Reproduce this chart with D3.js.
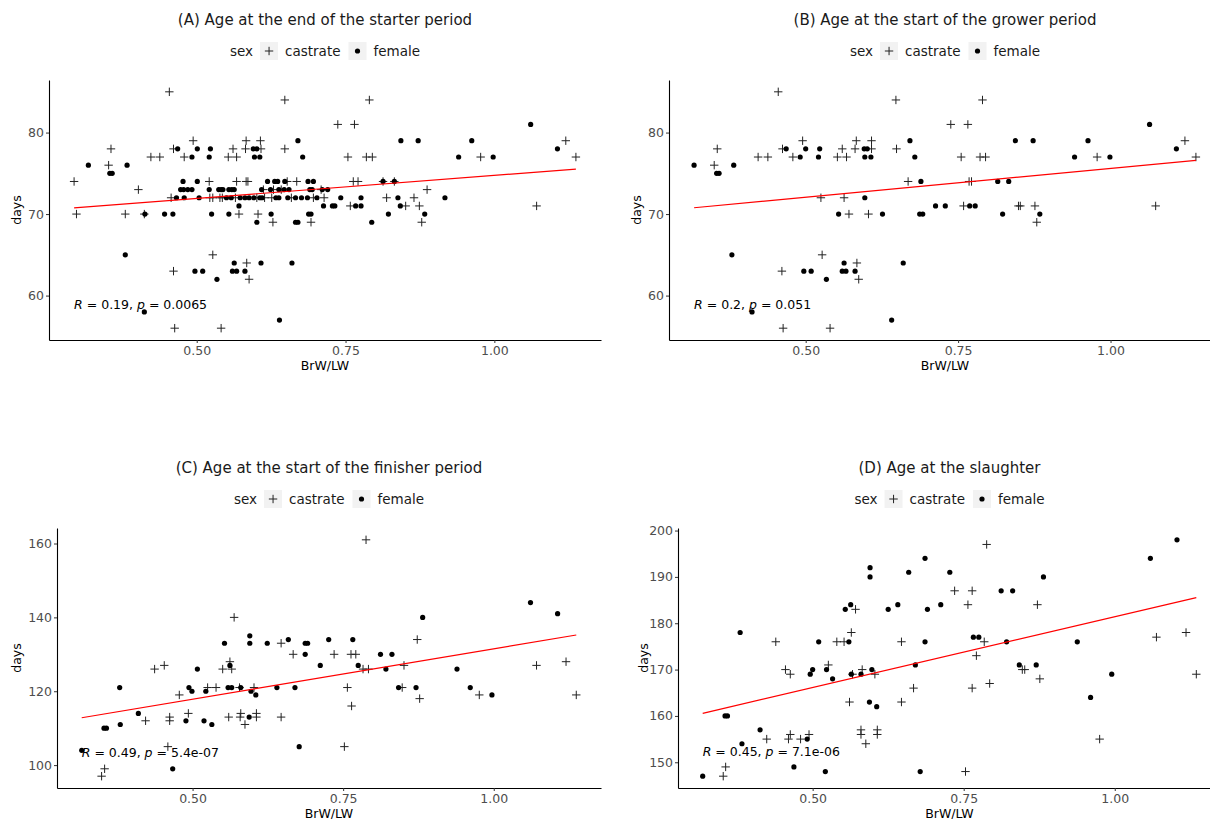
<!DOCTYPE html>
<html>
<head>
<meta charset="utf-8">
<script src="https://cdn.jsdelivr.net/npm/d3@7"></script>
<style>
  body { margin: 0; background: #fff; }
  svg { display: block; font-family: "DejaVu Sans", sans-serif; }
</style>
</head>
<body>
<svg id="chart" width="1210" height="819"></svg>
<script>
(function() {

// ---- data: [BrW/LW, days] per animal ----
const starterCastrate = [
  [0.454,85],[0.648,84],[0.790,84],[0.737,81],[0.765,81],
  [0.494,79],[0.583,79],[0.607,79],[1.120,79],
  [0.356,78],[0.461,78],[0.561,78],[0.582,78],[0.608,78],[0.648,78],
  [0.423,77],[0.438,77],[0.479,77],[0.553,77],[0.567,77],[0.754,77],[0.785,77],[0.795,77],[0.977,77],[1.137,77],
  [0.352,76],
  [0.294,74],[0.521,74],[0.567,74],[0.583,74],[0.586,74],[0.652,74],[0.668,74],[0.763,74],[0.771,74],[0.813,74],[0.832,74],
  [0.402,73],[0.612,73],[0.629,73],[0.642,73],[0.709,73],[0.887,73],
  [0.457,72],[0.522,72],[0.527,72],[0.539,72],[0.543,72],[0.565,72],[0.601,72],[0.614,72],[0.626,72],[0.659,72],[0.696,72],[0.714,72],[0.819,72],[0.865,72],
  [0.758,71],[0.851,71],[0.874,71],[1.071,71],
  [0.298,70],[0.380,70],[0.412,70],[0.571,70],[0.603,70],
  [0.628,69],[0.692,69],[0.878,69],
  [0.527,65],[0.584,64],[0.461,63],[0.588,62],[0.463,56],[0.541,56]
];
const starterFemale = [
  [1.061,81],
  [0.670,79],[0.843,79],[0.872,79],[0.962,79],
  [0.468,78],[0.501,78],[0.523,78],[0.595,78],[0.601,78],[1.106,78],
  [0.492,77],[0.521,77],[0.597,77],[0.606,77],[0.678,77],[0.940,77],[0.998,77],
  [0.318,76],[0.383,76],[0.354,75],[0.358,75],
  [0.477,74],[0.501,74],[0.619,74],[0.631,74],[0.636,74],[0.648,74],[0.687,74],[0.696,74],[0.813,74],[0.832,74],
  [0.473,73],[0.478,73],[0.485,73],[0.492,73],[0.521,73],[0.537,73],[0.541,73],[0.544,73],[0.554,73],[0.559,73],
  [0.563,73],[0.609,73],[0.624,73],[0.638,73],[0.647,73],[0.655,73],[0.690,73],[0.694,73],[0.711,73],[0.720,73],
  [0.466,72],[0.479,72],[0.504,72],[0.550,72],[0.558,72],[0.573,72],[0.581,72],[0.588,72],[0.596,72],[0.606,72],[0.610,72],
  [0.633,72],[0.638,72],[0.653,72],[0.666,72],[0.676,72],[0.686,72],[0.702,72],[0.742,72],[0.776,72],[0.838,72],[0.917,72],
  [0.571,71],[0.713,71],[0.728,71],[0.732,71],[0.767,71],[0.776,71],[0.842,71],
  [0.413,70],[0.446,70],[0.460,70],[0.525,70],[0.554,70],[0.625,70],[0.688,70],[0.692,70],[0.822,70],[0.883,70],
  [0.601,69],[0.666,69],[0.670,69],[0.794,69],
  [0.380,65],[0.563,64],[0.608,64],[0.660,64],
  [0.497,63],[0.510,63],[0.560,63],[0.567,63],[0.581,63],
  [0.534,62],[0.412,58],[0.639,57]
];

const growerCastrate = [
  [0.455,85],[0.648,84],[0.790,84],[0.738,81],[0.766,81],
  [0.495,79],[0.583,79],[0.608,79],[1.122,79],
  [0.355,78],[0.462,78],[0.560,78],[0.581,78],[0.608,78],[0.649,78],
  [0.422,77],[0.438,77],[0.479,77],[0.552,77],[0.567,77],[0.755,77],[0.786,77],[0.795,77],[0.978,77],[1.140,77],
  [0.350,76],[0.668,74],[0.768,74],[0.772,74],[0.525,72],[0.563,72],
  [0.759,71],[0.849,71],[0.852,71],[0.876,71],[1.074,71],
  [0.571,70],[0.603,70],[0.879,69],
  [0.527,65],[0.584,64],[0.461,63],[0.587,62],[0.463,56],[0.540,56]
];
const growerFemale = [
  [1.064,81],
  [0.671,79],[0.844,79],[0.873,79],[0.963,79],
  [0.468,78],[0.500,78],[0.523,78],[0.596,78],[0.601,78],[1.108,78],
  [0.491,77],[0.521,77],[0.597,77],[0.607,77],[0.679,77],[0.941,77],[0.999,77],
  [0.317,76],[0.382,76],[0.354,75],[0.358,75],
  [0.689,74],[0.815,74],[0.833,74],[0.597,72],
  [0.713,71],[0.729,71],[0.769,71],[0.778,71],
  [0.554,70],[0.626,70],[0.687,70],[0.692,70],[0.823,70],[0.884,70],
  [0.379,65],[0.563,64],[0.660,64],
  [0.497,63],[0.509,63],[0.560,63],[0.566,63],[0.581,63],
  [0.534,62],[0.412,58],[0.641,57]
];

const finisherCastrate = [
  [0.349,97],[0.354,99],[0.422,112],[0.437,126],[0.453,127],[0.462,113],[0.462,112],[0.459,105],
  [0.478,119],[0.493,114],[0.525,121],[0.539,121],[0.550,126],[0.562,128],[0.565,126],[0.560,113],
  [0.569,140],[0.580,114],[0.578,121],[0.587,111],[0.579,113],[0.602,121],[0.606,114],[0.606,113],
  [0.647,133],[0.647,113],[0.667,130],[0.735,130],[0.763,130],[0.771,130],[0.783,126],[0.792,126],
  [0.788,161],[0.757,121],[0.764,116],[0.752,105],[0.851,127],[0.848,121],[0.873,134],[0.877,118],
  [0.976,119],[1.071,127],[1.120,128],[1.137,119]
];
const finisherFemale = [
  [0.316,104],[0.353,110],[0.357,110],[0.379,121],[0.380,111],[0.410,114],[0.467,99],[0.489,112],
  [0.494,121],[0.499,120],[0.508,126],[0.519,112],[0.522,120],[0.532,111],[0.553,133],[0.562,127],
  [0.559,121],[0.565,121],[0.580,121],[0.595,135],[0.595,133],[0.594,113],[0.597,120],[0.605,119],
  [0.624,133],[0.640,121],[0.659,134],[0.670,121],[0.677,105],[0.687,130],[0.687,133],[0.691,133],
  [0.712,127],[0.726,134],[0.766,134],[0.775,127],[0.812,130],[0.831,130],[0.821,126],[0.842,121],
  [0.882,140],[0.871,121],[0.939,126],[0.961,121],[0.997,119],[1.061,144],[1.106,141]
];

const slaughterCastrate = [
  [0.352,147],[0.356,149],[0.424,155],[0.439,176],[0.455,170],[0.463,169],[0.460,155],[0.463,156],
  [0.480,155],[0.494,156],[0.526,171],[0.540,176],[0.552,176],[0.564,178],[0.571,183],[0.561,163],
  [0.566,169],[0.582,170],[0.580,157],[0.580,156],[0.588,154],[0.603,169],[0.607,157],[0.607,156],
  [0.647,176],[0.647,163],[0.667,166],[0.735,187],[0.757,184],[0.764,187],[0.788,197],[0.872,184],
  [0.784,176],[0.771,173],[0.847,170],[0.851,170],[0.876,168],[0.793,167],[0.764,166],[0.753,148],
  [0.975,155],[1.069,177],[1.118,178],[1.135,169]
];
const slaughterFemale = [
  [0.318,147],[0.355,160],[0.359,160],[0.380,178],[0.383,154],[0.413,157],[0.469,149],[0.491,155],
  [0.496,169],[0.500,170],[0.510,176],[0.521,148],[0.523,170],[0.533,168],[0.554,183],[0.560,176],
  [0.563,184],[0.564,169],[0.580,169],[0.595,192],[0.595,190],[0.598,170],[0.594,163],[0.606,162],
  [0.625,183],[0.641,184],[0.659,191],[0.670,171],[0.686,194],[0.686,176],[0.690,183],[0.678,148],
  [0.712,184],[0.727,191],[0.812,187],[0.831,187],[0.882,190],[0.766,177],[0.775,177],[0.821,176],
  [0.842,171],[0.870,171],[0.938,176],[0.960,164],[0.995,169],[1.059,194],[1.103,198]
];

const titles = [
  '(A) Age at the end of the starter period',
  '(B) Age at the start of the grower period',
  '(C) Age at the start of the finisher period',
  '(D) Age at the slaughter'
];
const xTicks = [0.50, 0.75, 1.00];
const yTicks = [[60, 70, 80], [60, 70, 80], [100, 120, 140, 160], [150, 160, 170, 180, 190, 200]];
const corR = ['0.19', '0.2', '0.49', '0.45'];
const corP = ['0.0065', '0.051', '5.4e-07', '7.1e-06'];
const corLabelY = [58.9, 58.9, 103.5, 152.2];
const sexLevels = ['castrate', 'female'];

// ---- layout ----
const boxes = [
  {left: 49,  right: 601,  top: 80,  bottom: 340, titleY: 25,  legendY: 51,  daysX: 17},
  {left: 669, right: 1221, top: 80,  bottom: 340, titleY: 25,  legendY: 51,  daysX: 637},
  {left: 57,  right: 601,  top: 528, bottom: 788, titleY: 473, legendY: 499, daysX: 17},
  {left: 678, right: 1221, top: 528, bottom: 788, titleY: 473, legendY: 499, daysX: 644}
];
const series = [
  [starterCastrate, starterFemale],
  [growerCastrate, growerFemale],
  [finisherCastrate, finisherFemale],
  [slaughterCastrate, slaughterFemale]
];

const svg = d3.select('#chart');
const fmt = d3.format('.2f');
const plusPath = 'M-4.2,0H4.2M0,-4.2V4.2';

// ggplot-style 5% expansion
const expand = ext => {
  const pad = (ext[1] - ext[0]) * 0.05;
  return [ext[0] - pad, ext[1] + pad];
};

function drawSymbol(g, sex) {
  if (sex === 'castrate') {
    g.append('path').attr('d', plusPath)
      .attr('stroke', '#222').attr('stroke-width', 1).attr('fill', 'none');
  } else {
    g.append('circle').attr('r', 2.6).attr('fill', '#000');
  }
}

boxes.forEach((b, i) => {
  const [castrate, female] = series[i];
  const all = castrate.concat(female);

  const x = d3.scaleLinear()
    .domain(expand(d3.extent(all, d => d[0])))
    .range([b.left, b.right]);
  const y = d3.scaleLinear()
    .domain(expand(d3.extent(all, d => d[1])))
    .range([b.bottom, b.top]);

  const g = svg.append('g');
  const cx = (b.left + b.right) / 2;

  // title
  g.append('text')
    .attr('x', cx).attr('y', b.titleY)
    .attr('text-anchor', 'middle')
    .attr('font-size', 15)
    .attr('fill', '#1a1a1a')
    .text(titles[i]);

  // legend
  const leg = g.append('g');
  let pos = 0;
  const sexLabel = leg.append('text')
    .attr('x', pos).attr('y', b.legendY).attr('dy', '0.35em')
    .attr('font-size', 13.5).attr('fill', '#1a1a1a').text('sex');
  pos += sexLabel.node().getComputedTextLength() + 7;
  sexLevels.forEach((s, k) => {
    leg.append('rect')
      .attr('x', pos).attr('y', b.legendY - 9)
      .attr('width', 18).attr('height', 18)
      .attr('fill', '#f2f2f2');
    const key = leg.append('g').attr('transform', `translate(${pos + 9},${b.legendY})`);
    drawSymbol(key, s);
    pos += 18 + 7;
    const t = leg.append('text')
      .attr('x', pos).attr('y', b.legendY).attr('dy', '0.35em')
      .attr('font-size', 13.5).attr('fill', '#1a1a1a').text(s);
    pos += t.node().getComputedTextLength() + (k === 0 ? 8 : 0);
  });
  leg.attr('transform', `translate(${cx - pos / 2},0)`);

  // axes
  const xAxis = g.append('g')
    .attr('transform', `translate(0,${b.bottom})`)
    .call(d3.axisBottom(x).tickValues(xTicks).tickFormat(fmt).tickSize(3).tickSizeOuter(0).tickPadding(3));
  const yAxis = g.append('g')
    .attr('transform', `translate(${b.left},0)`)
    .call(d3.axisLeft(y).tickValues(yTicks[i]).tickSize(3).tickSizeOuter(0).tickPadding(2));
  [xAxis, yAxis].forEach(a => {
    a.select('.domain').attr('stroke', '#000').attr('stroke-width', 1.1);
    a.selectAll('.tick line').attr('stroke', '#333');
    a.selectAll('.tick text').attr('font-size', 12.5).attr('fill', '#4d4d4d')
      .attr('font-family', '"DejaVu Sans", sans-serif');
  });

  g.append('text')
    .attr('x', cx).attr('y', b.bottom + 30)
    .attr('text-anchor', 'middle').attr('font-size', 12.5).attr('fill', '#000')
    .text('BrW/LW');
  g.append('text')
    .attr('transform', `translate(${b.daysX},${(b.top + b.bottom) / 2}) rotate(-90)`)
    .attr('text-anchor', 'middle').attr('dy', '0.35em')
    .attr('font-size', 12.5).attr('fill', '#000')
    .text('days');

  // points
  g.append('g').selectAll('path')
    .data(castrate)
    .enter().append('path')
      .attr('transform', d => `translate(${x(d[0])},${y(d[1])})`)
      .attr('d', plusPath)
      .attr('stroke', '#222').attr('stroke-width', 1).attr('fill', 'none');
  g.append('g').selectAll('circle')
    .data(female)
    .enter().append('circle')
      .attr('cx', d => x(d[0]))
      .attr('cy', d => y(d[1]))
      .attr('r', 2.6)
      .attr('fill', '#000');

  // least-squares fit over all animals
  const mx = d3.mean(all, d => d[0]);
  const my = d3.mean(all, d => d[1]);
  const slope = d3.sum(all, d => (d[0] - mx) * (d[1] - my)) / d3.sum(all, d => (d[0] - mx) ** 2);
  const xr = d3.extent(all, d => d[0]);
  const line = d3.line().x(d => x(d)).y(d => y(my + slope * (d - mx)));
  g.append('path')
    .attr('d', line(xr))
    .attr('stroke', '#ff0000').attr('stroke-width', 1.2).attr('fill', 'none');

  // correlation label
  const lab = g.append('text')
    .attr('x', x(xr[0])).attr('y', y(corLabelY[i])).attr('dy', '0.35em')
    .attr('font-size', 12.5).attr('fill', '#000');
  lab.append('tspan').attr('font-style', 'italic').text('R');
  lab.append('tspan').text(` = ${corR[i]}, `);
  lab.append('tspan').attr('font-style', 'italic').text('p');
  lab.append('tspan').text(` = ${corP[i]}`);
});

})();
</script>
</body>
</html>
